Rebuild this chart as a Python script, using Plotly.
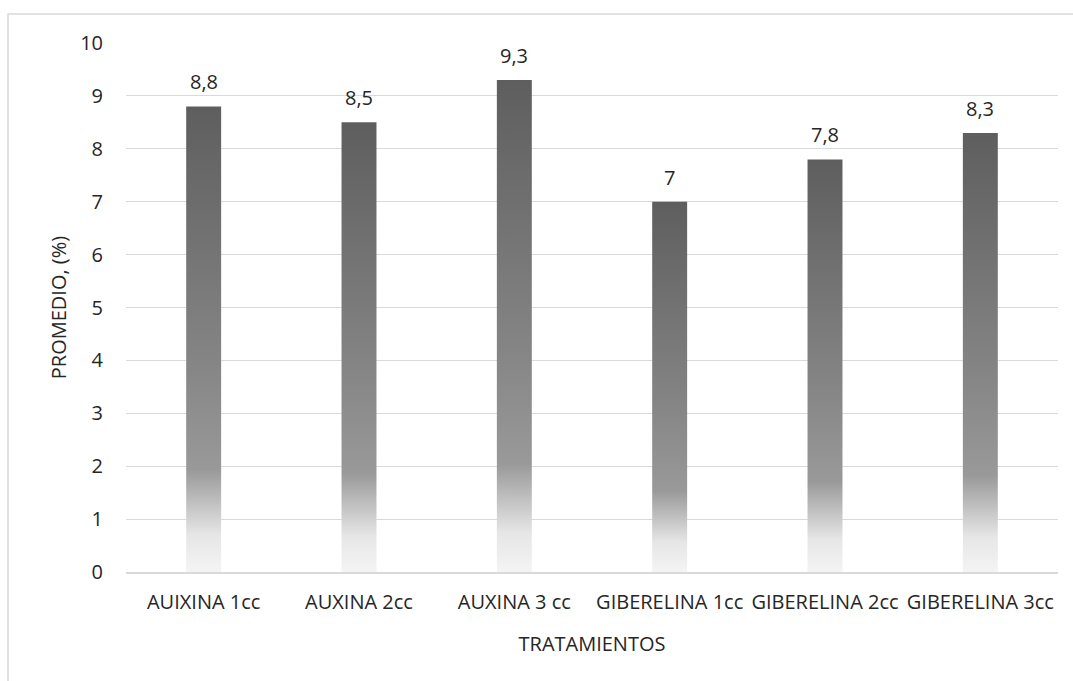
import plotly.graph_objects as go

# Treatment categories and mean values
categorias = ["AUIXINA 1cc", "AUXINA 2cc", "AUXINA 3 cc",
              "GIBERELINA 1cc", "GIBERELINA 2cc", "GIBERELINA 3cc"]
promedios = [8.8, 8.5, 9.3, 7.0, 7.8, 8.3]
etiquetas = ["8,8", "8,5", "9,3", "7", "7,8", "8,3"]
ticks_y = list(range(0, 11))

ANCHO = 0.225          # bar width in category units
FUENTE = "Open Sans"
TAM = 20
TEXTO = "#262626"

# vertical gradient: light at the base, dark at the top
escala = [
    [0.0, "#f4f4f4"],
    [0.08, "#e6e6e6"],
    [0.22, "#999999"],
    [0.45, "#858585"],
    [1.0, "#5e5e5e"],
]

fig = go.Figure()

for i, v in enumerate(promedios):
    fig.add_trace(go.Scatter(
        x=[i - ANCHO / 2, i + ANCHO / 2, i + ANCHO / 2, i - ANCHO / 2, i - ANCHO / 2],
        y=[0, 0, v, v, 0],
        mode="lines",
        line=dict(width=0, color="rgba(0,0,0,0)"),
        fill="toself",
        fillgradient=dict(type="vertical", colorscale=escala, start=0, stop=v),
        hoverinfo="skip",
        showlegend=False,
    ))
    fig.add_annotation(
        x=i, y=v, text=etiquetas[i], showarrow=False,
        xref="x", yref="y", yanchor="bottom", yshift=9,
        font=dict(family=FUENTE, size=TAM, color=TEXTO),
    )

# outer chart frame
fig.add_shape(
    type="rect", xref="paper", yref="paper",
    x0=(8 - 126) / 932, x1=(1076 - 126) / 932,
    y0=(572 - 700) / 529, y1=(572 - 14) / 529,
    line=dict(color="#d9d9d9", width=1.5), fillcolor="rgba(0,0,0,0)",
    layer="below",
)

fig.update_layout(
    width=1073, height=681,
    margin=dict(l=126, r=15, t=43, b=109),
    paper_bgcolor="white", plot_bgcolor="white",
    font=dict(family=FUENTE, size=TAM, color=TEXTO),
    showlegend=False,
    xaxis=dict(
        range=[-0.5, 5.5], automargin=False,
        tickmode="array", tickvals=list(range(len(categorias))), ticktext=categorias,
        tickangle=0,
        showgrid=False, zeroline=False,
        showline=True, linecolor="#d9d9d9", linewidth=1.5,
        ticks="", ticklabelstandoff=11,
        title=dict(text="TRATAMIENTOS", standoff=23,
                   font=dict(family=FUENTE, size=TAM, color=TEXTO)),
        tickfont=dict(family=FUENTE, size=TAM, color=TEXTO),
    ),
    yaxis=dict(
        range=[0, 10], automargin=False,
        tickmode="array", tickvals=ticks_y,
        showgrid=True, gridcolor="#d9d9d9", gridwidth=1,
        zeroline=False, showline=False,
        ticks="", ticklabelstandoff=22,
        title=dict(text="PROMEDIO, (%)", standoff=8,
                   font=dict(family=FUENTE, size=TAM, color=TEXTO)),
        tickfont=dict(family=FUENTE, size=TAM, color=TEXTO),
    ),
)

fig.write_html("out.html")
